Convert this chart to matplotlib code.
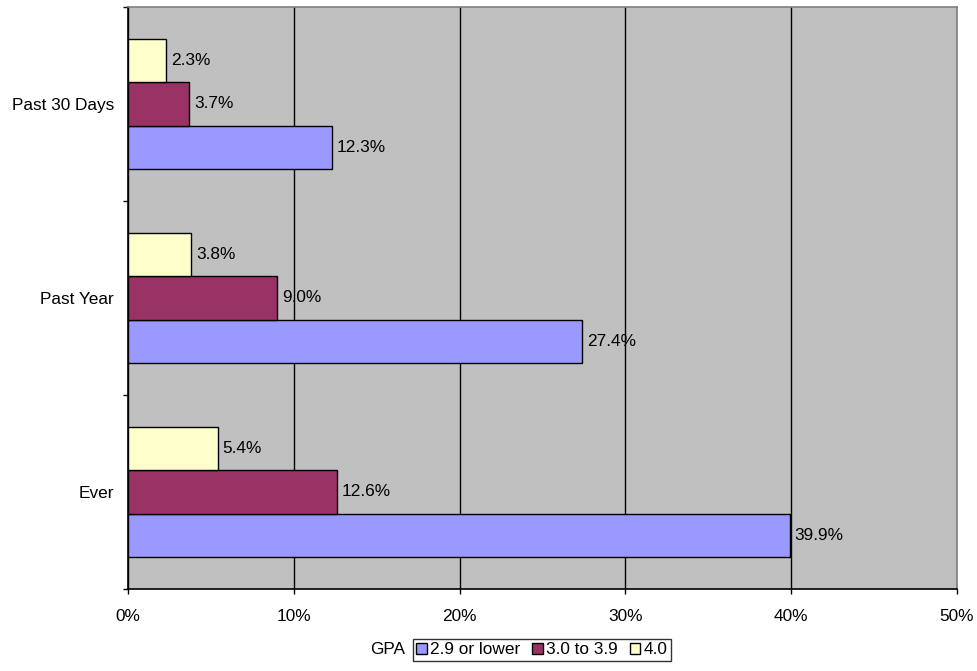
import numpy as np
import matplotlib.pyplot as plt
from matplotlib.patches import Patch

plt.rcParams['font.family'] = ['Liberation Sans', 'DejaVu Sans']

categories = ["Ever", "Past Year", "Past 30 Days"]
series_names = ["2.9 or lower", "3.0 to 3.9", "4.0"]
low_gpa = [39.9, 27.4, 12.3]
mid_gpa = [12.6, 9.0, 3.7]
top_gpa = [5.4, 3.8, 2.3]
x_ticks = [0, 10, 20, 30, 40, 50]

colors = ["#9999FF", "#993366", "#FFFFCC"]
fs = 12.4

fig = plt.figure(figsize=(9.78, 6.71), dpi=100)
ax = fig.add_axes([128 / 978, 1 - 589 / 671, 829 / 978, 582 / 671])
ax.set_facecolor("#C0C0C0")

y = np.arange(len(categories))
h = 0.222
for vals, off, col in zip([low_gpa, mid_gpa, top_gpa], [-h, 0, h], colors):
    bars = ax.barh(y + off, vals, height=h, color=col, edgecolor="black",
                   linewidth=1, zorder=3)
    for b, v in zip(bars, vals):
        ax.text(v + 0.3, b.get_y() + h / 2, f"{v:.1f}%", va="center",
                ha="left", fontsize=fs, zorder=4)

ax.set_xlim(0, 50)
ax.set_ylim(-0.5, 2.5)
ax.set_xticks(x_ticks)
ax.set_xticklabels([f"{t}%" for t in x_ticks], fontsize=fs)
ax.xaxis.grid(True, color="black", linewidth=1, zorder=1)
ax.tick_params(axis="x", length=3.6, width=1, pad=10.5)

# category boundaries get tick marks, names sit between them
ax.set_yticks([-0.5, 0.5, 1.5, 2.5])
ax.set_yticklabels([])
ax.set_yticks(y, minor=True)
ax.set_yticklabels(categories, minor=True, fontsize=fs)
ax.tick_params(axis="y", which="major", length=3.6, width=1)
ax.tick_params(axis="y", which="minor", length=0, pad=10)

ax.spines["left"].set_color("black")
ax.spines["bottom"].set_color("black")
ax.spines["top"].set_color("#808080")
ax.spines["right"].set_color("#808080")
for s in ax.spines.values():
    s.set_linewidth(1.2)

handles = [Patch(facecolor=c, edgecolor="black", linewidth=1) for c in colors]
leg = fig.legend(handles, series_names, loc="center", ncol=3,
                 bbox_to_anchor=(542 / 978, 1 - 650 / 671), fontsize=fs,
                 frameon=True, fancybox=False, edgecolor="black",
                 handlelength=0.6, handleheight=0.6, handletextpad=0.2,
                 columnspacing=0.7, borderpad=0.2, borderaxespad=0)
leg.get_frame().set_linewidth(1)
fig.text(388 / 978, 1 - 650 / 671, "GPA", ha="center", va="center", fontsize=fs)

fig.savefig("out.png", dpi=100)
